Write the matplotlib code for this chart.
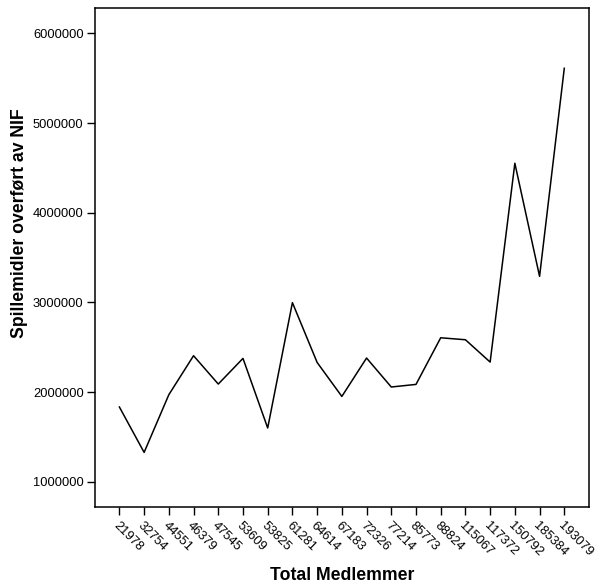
import matplotlib
matplotlib.use("Agg")
import matplotlib.pyplot as plt

plt.rcParams['font.family'] = ['Liberation Sans', 'DejaVu Sans']

members = ["21978", "32754", "44551", "46379", "47545", "53609", "53825", "61281",
           "64614", "67183", "72326", "77214", "85773", "88824", "115067", "117372",
           "150792", "185384", "193079"]
spillemidler = [1833000, 1327000, 1970000, 2405000, 2089000, 2375000, 1599000, 2997000,
                2330000, 1951000, 2379000, 2056000, 2085000, 2605000, 2583000, 2334000,
                4551000, 3290000, 5610000]
yticks = [1000000, 2000000, 3000000, 4000000, 5000000, 6000000]

fig = plt.figure(figsize=(5.97, 5.85), dpi=100)
ax = fig.add_axes([0.1586, 0.1338, 0.9866 - 0.1586, 0.9858 - 0.1338])

x = list(range(len(members)))
ax.plot(x, spillemidler, color='black', linewidth=1.1)

ax.set_xlim(-1, len(members))
ax.set_ylim(721000, 6279000)
ax.set_yticks(yticks)
ax.set_yticklabels([str(v) for v in yticks], fontsize=9.25)
ax.set_xticks(x)
ax.set_xticklabels(members, fontsize=9.25, rotation=-45, ha='left', va='top',
                   rotation_mode='anchor')
ax.tick_params(axis='both', direction='out', length=6, width=1, color='black', pad=2)
ax.tick_params(axis='x', pad=3)

for s in ax.spines.values():
    s.set_linewidth(1.1)
    s.set_color('black')

ax.set_xlabel("Total Medlemmer", fontsize=12.7, fontweight='bold')
ax.set_ylabel("Spillemidler overført av NIF", fontsize=12.7, fontweight='bold')
ax.xaxis.set_label_coords(0.5, -0.121)
ax.xaxis.label.set_va('top')
ax.yaxis.set_label_coords(-0.135, 0.569)

fig.savefig("out.png", dpi=100)
